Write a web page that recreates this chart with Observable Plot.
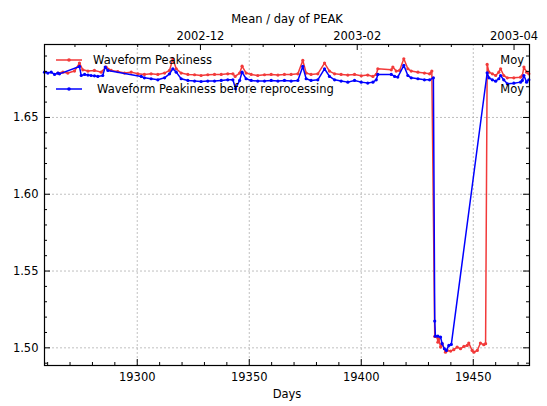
<!DOCTYPE html>
<html><head><meta charset="utf-8">
<script src="https://cdn.jsdelivr.net/npm/d3@7"></script>
<script src="https://cdn.jsdelivr.net/npm/@observablehq/plot@0.6"></script>
<style>body{margin:0;background:#fff;} svg{font-family:"DejaVu Sans",sans-serif;}</style>
</head><body><div id="chart"></div>
<script>
const redDays = [19264.6, 19266.8, 19269.0, 19272.0, 19274.2, 19275.7, 19278.0, 19280.9, 19283.9, 19286.1, 19288.4, 19291.3, 19294.3, 19297.3, 19300.3, 19303.2, 19306.2, 19309.2, 19312.2, 19314.4, 19315.9, 19317.4, 19319.6, 19322.6, 19325.6, 19328.5, 19331.5, 19334.5, 19337.5, 19340.4, 19342.7, 19343.7, 19345.7, 19346.8, 19348.6, 19350.9, 19353.8, 19356.8, 19359.8, 19362.8, 19365.7, 19368.7, 19371.7, 19373.9, 19375.4, 19377.6, 19380.6, 19383.6, 19385.8, 19388.1, 19391.0, 19394.0, 19397.0, 19400.0, 19402.9, 19405.2, 19406.7, 19407.4, 19413.4, 19414.1, 19415.6, 19417.1, 19419.0, 19420.8, 19422.3, 19425.3, 19428.2, 19430.5, 19431.5,
  19432.8, 19433.9, 19434.2, 19434.6, 19435.4, 19436.1, 19437.6, 19438.4, 19439.9, 19441.3, 19442.8, 19444.3, 19445.8, 19447.3, 19448.0, 19449.5, 19450.3, 19451.8, 19453.2, 19454.7, 19455.5,
  19456.2, 19457.0, 19458.5, 19460.0, 19461.4, 19462.2, 19463.6, 19465.2, 19468.1, 19471.1, 19471.9, 19472.6, 19473.8, 19474.8];
const redValues = [1.6789, 1.6795, 1.6789, 1.6802, 1.6854, 1.6810, 1.6802, 1.6806, 1.6795, 1.6828, 1.6806, 1.6799, 1.6789, 1.6795, 1.6784, 1.6780, 1.6784, 1.6780, 1.6789, 1.6806, 1.6882, 1.6817, 1.6789, 1.6780, 1.6778, 1.6773, 1.6778, 1.6780, 1.6780, 1.6784, 1.6784, 1.6767, 1.6789, 1.6834, 1.6789, 1.6780, 1.6773, 1.6778, 1.6780, 1.6776, 1.6780, 1.6780, 1.6784, 1.6871, 1.6789, 1.6780, 1.6784, 1.6854, 1.6802, 1.6784, 1.6780, 1.6776, 1.6780, 1.6771, 1.6776, 1.6767, 1.6780, 1.6817, 1.6810, 1.6828, 1.6802, 1.6806, 1.6882, 1.6817, 1.6802, 1.6795, 1.6789, 1.6784, 1.6802,
  1.5074, 1.5070, 1.5037, 1.5059, 1.5005, 1.5027, 1.4972, 1.4983, 1.4979, 1.4988, 1.5005, 1.4994, 1.5009, 1.5016, 1.5031, 1.4983, 1.4972, 1.4983, 1.5031, 1.5020, 1.5027,
  1.6845, 1.6795, 1.6784, 1.6773, 1.6795, 1.6817, 1.6773, 1.6758, 1.6758, 1.6762, 1.6773, 1.6828, 1.6795, 1.6784];

const blueDays = [19258.6, 19260.1, 19261.6, 19263.1, 19264.6, 19265.3, 19274.2, 19275.0, 19276.5, 19278.0, 19279.4, 19280.9, 19282.4, 19284.6, 19285.7, 19286.9, 19301.8, 19303.2, 19306.2, 19309.2, 19312.2, 19314.4, 19315.9, 19317.4, 19319.6, 19322.6, 19325.6, 19328.5, 19331.5, 19334.5, 19337.5, 19340.4, 19342.7, 19343.9, 19345.7, 19346.8, 19348.6, 19350.9, 19353.8, 19356.8, 19359.8, 19362.8, 19365.7, 19368.7, 19371.7, 19373.9, 19375.4, 19377.6, 19380.6, 19383.6, 19385.8, 19388.1, 19391.0, 19394.0, 19397.0, 19400.0, 19402.9, 19405.2, 19406.7, 19407.4, 19413.4, 19414.9, 19416.3, 19419.0, 19420.8, 19422.3, 19425.3, 19428.2, 19430.5, 19432.2,
  19432.8, 19433.1, 19434.2, 19435.4, 19436.1, 19437.1, 19438.0, 19439.1, 19440.2,
  19456.2, 19457.0, 19458.5, 19460.0, 19461.4, 19462.2, 19463.6, 19465.2, 19468.1, 19471.1, 19471.9, 19472.6, 19473.8, 19474.8];
const blueValues = [1.6795, 1.6789, 1.6795, 1.6780, 1.6789, 1.6784, 1.6832, 1.6773, 1.6780, 1.6776, 1.6773, 1.6771, 1.6767, 1.6773, 1.6828, 1.6806, 1.6767, 1.6758, 1.6752, 1.6745, 1.6758, 1.6784, 1.6817, 1.6795, 1.6752, 1.6741, 1.6737, 1.6734, 1.6737, 1.6737, 1.6741, 1.6745, 1.6745, 1.6687, 1.6741, 1.6795, 1.6752, 1.6741, 1.6737, 1.6737, 1.6741, 1.6737, 1.6741, 1.6737, 1.6741, 1.6832, 1.6752, 1.6741, 1.6745, 1.6817, 1.6767, 1.6745, 1.6737, 1.6730, 1.6741, 1.6730, 1.6724, 1.6730, 1.6745, 1.6780, 1.6780, 1.6767, 1.6763, 1.6839, 1.6773, 1.6758, 1.6752, 1.6745, 1.6745, 1.6758,
  1.5174, 1.5076, 1.5076, 1.5070, 1.5027, 1.4994, 1.4983, 1.5016, 1.5022,
  1.6791, 1.6758, 1.6745, 1.6736, 1.6752, 1.6773, 1.6745, 1.6719, 1.6723, 1.6730, 1.6741, 1.6773, 1.6730, 1.6745];

const seriesNames = ["Waveform Peakiness", "Waveform Peakiness before reprocessing"];
const seriesColors = ["#f23a3a", "#0000ff"];
const meanLabel = "Moy";
const chartTitle = "Mean / day of PEAK";
const xLabel = "Days";

const xMajorTicks = [19300, 19350, 19400, 19450];
const xMinorTicks = [19260, 19270, 19280, 19290, 19310, 19320, 19330, 19340, 19360, 19370, 19380, 19390, 19410, 19420, 19430, 19440, 19460, 19470];
const yMajorTicks = [1.50, 1.55, 1.60, 1.65];
const yMinorTicks = [1.49, 1.51, 1.52, 1.53, 1.54, 1.56, 1.57, 1.58, 1.59, 1.61, 1.62, 1.63, 1.64, 1.66, 1.67, 1.68, 1.69];
const topMajorTicks = [19328.2, 19398.2, 19468.2];
const topLabels = ["2002-12", "2003-02", "2003-04"];
const topMinorTicks = [19272.2, 19286.2, 19300.2, 19314.2, 19342.2, 19356.2, 19370.2, 19384.2, 19412.2, 19426.2, 19440.2, 19454.2];

const red = redDays.map((d, i) => ({day: d, value: redValues[i]}));
const blue = blueDays.map((d, i) => ({day: d, value: blueValues[i]}));

const W = 547, H = 406, mL = 44, mR = 18, mT = 44, mB = 41;
const pW = W - mL - mR, pH = H - mT - mB;
const fs = 11.5;
const grid = {stroke: "#b0b0b0", strokeDasharray: "2,2", strokeOpacity: 1, strokeWidth: 0.8};

const svg = Plot.plot({
  width: W, height: H,
  marginLeft: mL, marginRight: mR, marginTop: mT, marginBottom: mB,
  style: {fontFamily: "DejaVu Sans, sans-serif", fontSize: fs + "px", background: "#fff", color: "#000"},
  x: {domain: [19258.6, 19475.1], axis: null},
  y: {domain: [1.4885, 1.6975], axis: null},
  marks: [
    Plot.gridX(xMajorTicks, grid),
    Plot.gridY(yMajorTicks, grid),
    Plot.line(red, {x: "day", y: "value", stroke: seriesColors[0], strokeWidth: 1.5}),
    Plot.dot(red, {x: "day", y: "value", fill: seriesColors[0], r: 1.6}),
    Plot.line(blue, {x: "day", y: "value", stroke: seriesColors[1], strokeWidth: 1.5}),
    Plot.dot(blue, {x: "day", y: "value", fill: seriesColors[1], r: 1.6}),
    // inward ticks
    Plot.ruleX(xMajorTicks, {x: d => d, insetTop: pH - 6, stroke: "#000"}),
    Plot.ruleX(xMinorTicks, {x: d => d, insetTop: pH - 3, stroke: "#000"}),
    Plot.ruleX(topMajorTicks, {x: d => d, insetBottom: pH - 6, stroke: "#000"}),
    Plot.ruleX(topMinorTicks, {x: d => d, insetBottom: pH - 3, stroke: "#000"}),
    Plot.ruleY(yMajorTicks, {y: d => d, insetRight: pW - 6, stroke: "#000"}),
    Plot.ruleY(yMinorTicks, {y: d => d, insetRight: pW - 3, stroke: "#000"}),
    Plot.ruleY(yMajorTicks, {y: d => d, insetLeft: pW - 6, stroke: "#000"}),
    Plot.ruleY(yMinorTicks, {y: d => d, insetLeft: pW - 3, stroke: "#000"}),
    Plot.frame({stroke: "#000", strokeWidth: 1.2}),
    // tick labels
    Plot.text(xMajorTicks, {x: d => d, text: d => String(d), frameAnchor: "bottom", dy: 15, fontSize: fs, fill: "#000"}),
    Plot.text(yMajorTicks, {y: d => d, text: d => d.toFixed(2), frameAnchor: "left", textAnchor: "end", dx: -6, fontSize: fs, fill: "#000"}),
    Plot.text(topMajorTicks, {x: d => d, text: (d, i) => topLabels[i], frameAnchor: "top", dy: -13, fontSize: fs, fill: "#000"}),
    Plot.text([chartTitle], {text: d => d, frameAnchor: "top", dy: -30, fontSize: fs, fill: "#000"}),
    Plot.text([xLabel], {text: d => d, frameAnchor: "bottom", dy: 32, fontSize: fs, fill: "#000"})
  ]
});

// legend (inside plot, upper-left) and "Moy" labels at right
const sel = d3.select(svg);
const leg = sel.append("g").attr("font-size", fs).attr("font-family", "DejaVu Sans, sans-serif");
const rows = [{y: 60, tx: 93}, {y: 89, tx: 97}];
rows.forEach((r, i) => {
  leg.append("line").attr("x1", 56).attr("x2", 82).attr("y1", r.y).attr("y2", r.y)
    .attr("stroke", seriesColors[i]).attr("stroke-width", 1.5);
  leg.append("circle").attr("cx", 69).attr("cy", r.y).attr("r", 1.8).attr("fill", seriesColors[i]);
  leg.append("text").attr("x", r.tx).attr("y", r.y).attr("dy", "0.35em")
    .attr("text-anchor", "start").attr("fill", "#000").text(seriesNames[i]);
  leg.append("text").attr("x", 524).attr("y", r.y).attr("dy", "0.35em")
    .attr("text-anchor", "end").attr("fill", "#000").text(meanLabel);
});

document.getElementById("chart").appendChild(svg);
</script>
</body></html>
